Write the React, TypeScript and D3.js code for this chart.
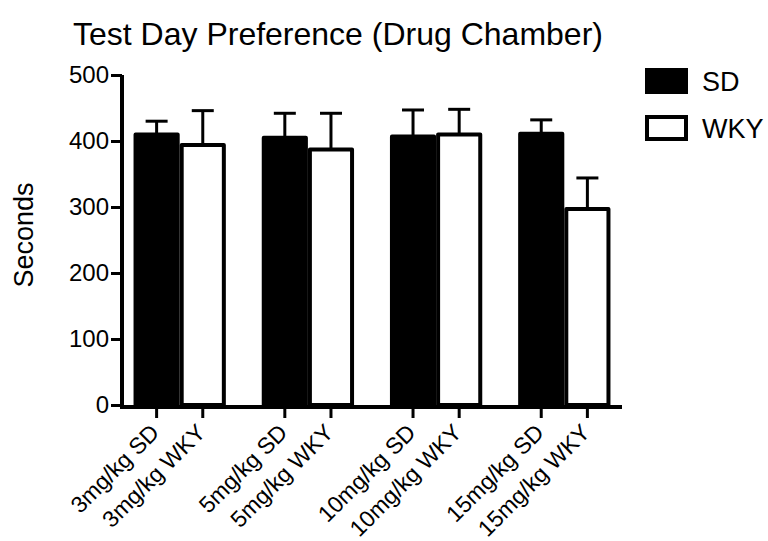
import React, { useEffect, useRef } from 'react';
import * as d3 from 'd3';

const doses = ['3mg/kg', '5mg/kg', '10mg/kg', '15mg/kg'];
const strains = ['SD', 'WKY'];
const sdMeans = [410, 405, 407, 411];
const sdErr = [20, 37, 40, 21];
const wkyMeans = [394, 387, 410, 297];
const wkyErr = [52, 55, 38, 47];
const yTicks = [0, 100, 200, 300, 400, 500];

const FONT = '"Liberation Sans", Arial, sans-serif';

const App = () => {
  const svgRef = useRef<SVGSVGElement>(null);

  useEffect(() => {
    const svg = d3.select(svgRef.current);
    svg.selectAll('*').remove();

    const left = 122, right = 622, top = 75, bottom = 405;

    const x = d3.scaleBand<string>()
      .domain(doses)
      .range([left, right])
      .paddingInner(0.28)
      .paddingOuter(0.09);
    const xi = d3.scaleBand<string>()
      .domain(strains)
      .range([0, x.bandwidth()]);
    const y = d3.scaleLinear().domain([0, 500]).range([bottom, top]);

    const rows = doses.flatMap((d, i) => [
      { dose: d, strain: 'SD', mean: sdMeans[i], err: sdErr[i] },
      { dose: d, strain: 'WKY', mean: wkyMeans[i], err: wkyErr[i] },
    ]);

    // error bars (drawn first so the bar covers the lower half)
    const eb = svg.append('g').attr('stroke', 'black').attr('stroke-width', 3);
    rows.forEach(r => {
      const cx = x(r.dose)! + xi(r.strain)! + xi.bandwidth() / 2;
      eb.append('line').attr('x1', cx).attr('x2', cx).attr('y1', y(r.mean)).attr('y2', y(r.mean + r.err));
      eb.append('line').attr('x1', cx - 11).attr('x2', cx + 11).attr('y1', y(r.mean + r.err)).attr('y2', y(r.mean + r.err));
    });

    // bars
    svg.append('g').selectAll('rect')
      .data(rows)
      .enter().append('rect')
      .attr('x', d => x(d.dose)! + xi(d.strain)! + 2)
      .attr('width', xi.bandwidth() - 4)
      .attr('y', d => y(d.mean))
      .attr('height', d => bottom - y(d.mean))
      .attr('fill', d => d.strain === 'SD' ? 'black' : 'white')
      .attr('stroke', 'black')
      .attr('stroke-width', 4)
      .attr('stroke-linejoin', 'round');

    // y axis
    const yAxis = svg.append('g')
      .attr('transform', `translate(${left},0)`)
      .call(d3.axisLeft(y).tickValues(yTicks).tickSize(11).tickSizeOuter(0).tickPadding(2));
    yAxis.select('.domain').remove();
    yAxis.append('line').attr('x1', 0).attr('x2', 0).attr('y1', top).attr('y2', bottom + 2)
      .attr('stroke', 'black').attr('stroke-width', 4);
    yAxis.selectAll('.tick line').attr('stroke-width', 3);
    yAxis.selectAll('text').attr('font-family', FONT).attr('font-size', 24).attr('fill', 'black');

    // x axis
    svg.append('line').attr('x1', left - 2).attr('x2', right).attr('y1', bottom + 2).attr('y2', bottom + 2)
      .attr('stroke', 'black').attr('stroke-width', 4);
    const xg = svg.append('g');
    rows.forEach(r => {
      const cx = x(r.dose)! + xi(r.strain)! + xi.bandwidth() / 2;
      xg.append('line').attr('x1', cx).attr('x2', cx).attr('y1', bottom + 2).attr('y2', bottom + 13)
        .attr('stroke', 'black').attr('stroke-width', 3);
      xg.append('text')
        .attr('transform', `translate(${cx + 4},${bottom + 29}) rotate(-45)`)
        .attr('text-anchor', 'end')
        .attr('font-family', FONT).attr('font-size', 23)
        .text(`${r.dose} ${r.strain}`);
    });

    // title + y label
    svg.append('text').attr('x', 73).attr('y', 45)
      .attr('font-family', FONT).attr('font-size', 32)
      .text('Test Day Preference (Drug Chamber)');
    svg.append('text')
      .attr('transform', `translate(33,235) rotate(-90)`)
      .attr('text-anchor', 'middle')
      .attr('font-family', FONT).attr('font-size', 27)
      .text('Seconds');

    // legend
    const lg = svg.append('g');
    strains.forEach((s, i) => {
      lg.append('rect').attr('x', 647).attr('y', 70 + i * 47).attr('width', 39).attr('height', 22)
        .attr('fill', s === 'SD' ? 'black' : 'white').attr('stroke', 'black').attr('stroke-width', 4);
      lg.append('text').attr('x', 702).attr('y', 81 + i * 47).attr('dy', '0.36em')
        .attr('font-family', FONT).attr('font-size', 27).text(s);
    });
  }, []);

  return (
    <svg ref={svgRef} width={768} height={541}
      style={{ position: 'absolute', left: 0, top: 0, background: 'white' }} />
  );
};

export default App;
